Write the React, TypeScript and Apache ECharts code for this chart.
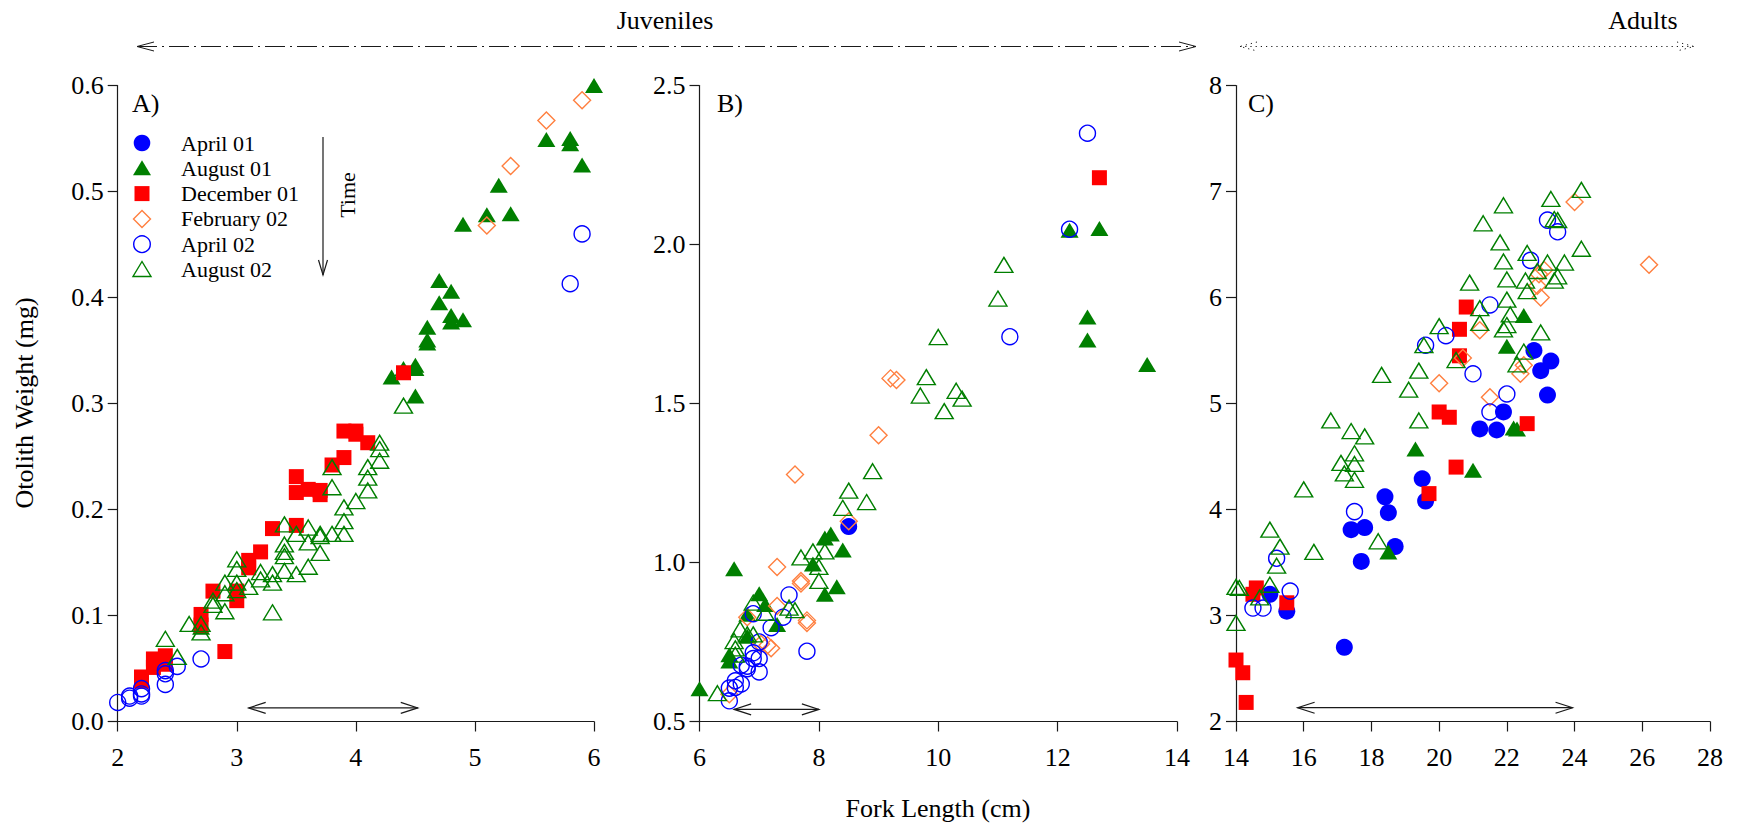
import React, { useEffect, useRef } from "react";
import * as echarts from "echarts";

// ---------- texts ----------
const seriesNames = ["April 01", "August 01", "December 01", "February 02", "April 02", "August 02"];
const panelLabels = ["A)", "B)", "C)"];
const headerLabels = ["Juveniles", "Adults"];
const xTitle = "Fork Length (cm)";
const yTitle = "Otolith Weight (mg)";
const timeLabel = "Time";

// ---------- axes: [min, max, interval] ----------
const xAxisA = [2, 6, 1];
const yAxisA = [0, 0.6, 0.1];
const xAxisB = [6, 14, 2];
const yAxisB = [0.5, 2.5, 0.5];
const xAxisC = [14, 28, 2];
const yAxisC = [2, 8, 1];
const yDecimals = [1, 1, 0];

// ---------- range arrows inside panels: [x1, x2, y] ----------
const rangeArrowA = [3.1, 4.52, 0.0128];
const rangeArrowB = [6.58, 8.0, 0.538];
const rangeArrowC = [15.82, 23.94, 2.13];

// ---------- Panel A data [fork length, otolith weight] ----------
const apr01A: number[][] = [];
const aug01A = [[6.0,0.6],[5.6,0.549],[5.8,0.55],[5.8,0.545],[5.9,0.525],[5.2,0.506],[5.1,0.478],[5.3,0.479],[4.9,0.469],[4.7,0.416],[4.8,0.406],[4.7,0.395],[4.8,0.383],[4.8,0.377],[4.9,0.379],[4.6,0.372],[4.6,0.36],[4.6,0.357],[4.5,0.336],[4.5,0.333],[4.3,0.325],[4.4,0.333],[4.5,0.307],[2.7,0.089]];
const dec01A = [[4.4,0.329],[3.9,0.274],[4.0,0.274],[4.0,0.271],[4.1,0.263],[3.8,0.242],[3.9,0.249],[3.5,0.231],[3.5,0.216],[3.6,0.219],[3.7,0.218],[3.7,0.214],[3.5,0.185],[3.3,0.182],[3.2,0.16],[3.1,0.152],[3.1,0.145],[3.0,0.123],[3.0,0.114],[2.8,0.123],[2.7,0.101],[2.7,0.091],[2.9,0.066],[2.4,0.062],[2.3,0.059],[2.3,0.051],[2.4,0.054],[2.2,0.038],[2.2,0.042]];
const feb02A = [[5.9,0.586],[5.6,0.567],[5.3,0.524],[5.1,0.468]];
const apr02A = [[5.9,0.46],[5.8,0.413],[2.0,0.018],[2.1,0.024],[2.1,0.022],[2.2,0.031],[2.2,0.026],[2.2,0.024],[2.4,0.048],[2.4,0.045],[2.4,0.035],[2.5,0.052],[2.7,0.059]];
const aug02A = [[4.4,0.298],[4.2,0.263],[4.2,0.257],[4.2,0.246],[4.1,0.24],[4.1,0.23],[4.1,0.218],[4.0,0.208],[3.9,0.202],[3.9,0.189],[3.9,0.177],[3.8,0.24],[3.8,0.221],[3.8,0.177],[3.7,0.177],[3.7,0.175],[3.7,0.159],[3.6,0.183],[3.6,0.169],[3.6,0.146],[3.5,0.177],[3.5,0.139],[3.4,0.186],[3.4,0.167],[3.4,0.16],[3.4,0.156],[3.4,0.142],[3.3,0.139],[3.3,0.131],[3.3,0.103],[3.2,0.141],[3.2,0.134],[3.1,0.127],[3.0,0.153],[3.0,0.144],[3.0,0.131],[3.0,0.124],[2.9,0.131],[2.9,0.121],[2.9,0.104],[2.8,0.114],[2.8,0.11],[2.7,0.092],[2.7,0.084],[2.6,0.092],[2.5,0.061],[2.4,0.078]];

// ---------- Panel B data ----------
const apr01B = [[8.5,1.113]];
const aug01B = [[12.2,2.045],[12.7,2.05],[12.5,1.772],[12.5,1.70],[13.5,1.623],[6.0,0.603],[6.58,0.98],[7.0,0.902],[7.1,0.868],[6.8,0.837],[7.3,0.805],[6.8,0.768],[6.5,0.69],[6.5,0.71],[7.9,0.995],[8.1,0.9],[8.3,0.924],[8.4,1.039],[8.1,1.077],[8.2,1.09]];
const dec01B = [[12.7,2.21]];
const feb02B = [[9.2,1.579],[9.3,1.574],[9.0,1.40],[7.6,1.277],[8.5,1.13],[7.3,0.986],[7.7,0.942],[7.7,0.934],[7.3,0.863],[7.8,0.818],[7.8,0.81],[6.8,0.828],[7.03,0.744],[7.14,0.74],[7.2,0.73],[6.5,0.586]];
const apr02B = [[12.5,2.35],[12.2,2.048],[11.2,1.71],[7.5,0.898],[6.9,0.839],[7.4,0.828],[7.2,0.795],[7.8,0.721],[7.0,0.75],[6.9,0.716],[6.9,0.698],[7.0,0.698],[6.7,0.677],[6.8,0.666],[6.8,0.674],[7.0,0.656],[6.6,0.628],[6.7,0.618],[6.5,0.605],[6.6,0.607],[6.5,0.565]];
const aug02B = [[11.1,1.936],[11.0,1.83],[10.0,1.709],[9.8,1.583],[9.7,1.525],[10.3,1.54],[10.4,1.515],[10.1,1.476],[8.9,1.287],[8.5,1.226],[8.8,1.19],[8.4,1.172],[7.7,1.016],[7.9,1.035],[8.1,1.035],[8.0,0.986],[8.0,0.942],[7.5,0.858],[7.6,0.85],[7.1,0.842],[6.9,0.874],[6.68,0.79],[6.58,0.753],[6.6,0.73],[6.8,0.774],[6.9,0.774],[6.3,0.589],[6.6,0.71]];

// ---------- Panel C data ----------
const apr01C = [[22.8,5.50],[23.3,5.40],[23.0,5.31],[23.2,5.08],[21.9,4.92],[21.2,4.76],[21.7,4.75],[19.5,4.29],[19.6,4.08],[18.4,4.12],[18.5,3.97],[17.4,3.81],[17.8,3.83],[18.7,3.65],[17.7,3.51],[17.2,2.70],[15.0,3.2],[15.5,3.04]];
const aug01C = [[22.5,5.83],[22.0,5.54],[22.2,4.77],[22.3,4.76],[19.3,4.57],[21.0,4.37],[18.5,3.60]];
const dec01C = [[20.8,5.91],[20.6,5.70],[20.6,5.45],[20.0,4.92],[20.3,4.87],[22.6,4.81],[20.5,4.40],[19.7,4.15],[14.0,2.58],[14.2,2.46],[14.3,2.18],[14.6,3.26],[14.5,3.2],[15.5,3.12]];
const feb02C = [[24.0,6.90],[26.2,6.31],[23.1,6.26],[22.95,6.22],[22.9,6.11],[23.0,6.0],[21.2,5.69],[20.7,5.43],[22.5,5.36],[22.4,5.28],[20.0,5.19],[21.5,5.06]];
const apr02C = [[23.2,6.73],[23.5,6.62],[22.7,6.35],[21.5,5.93],[20.2,5.64],[19.6,5.55],[21.0,5.28],[22.0,5.09],[21.5,4.92],[17.5,3.98],[15.2,3.54],[15.6,3.23],[14.5,3.07],[14.8,3.07]];
const aug02C = [[24.2,7.015],[23.3,6.93],[21.9,6.87],[23.4,6.74],[23.5,6.73],[21.3,6.70],[21.8,6.52],[24.2,6.46],[22.6,6.42],[21.9,6.34],[23.2,6.33],[23.7,6.33],[22.9,6.25],[22.0,6.17],[22.55,6.16],[23.5,6.2],[23.4,6.16],[20.9,6.14],[22.6,6.06],[22.0,5.98],[21.2,5.90],[22.1,5.84],[22.0,5.74],[21.9,5.70],[20.0,5.73],[21.2,5.76],[23.0,5.67],[19.55,5.55],[20.5,5.41],[22.5,5.49],[22.3,5.37],[19.4,5.31],[18.3,5.27],[19.1,5.13],[19.4,4.84],[16.8,4.84],[17.4,4.74],[17.8,4.69],[17.5,4.53],[17.1,4.44],[17.5,4.43],[17.2,4.34],[17.5,4.28],[16.0,4.19],[15.0,3.81],[15.3,3.65],[16.3,3.60],[18.2,3.70],[15.2,3.47],[15.0,3.29],[14.0,3.27],[14.1,3.26],[14.7,3.17],[14.0,2.93]];

// ---------- styling / layout ----------
const FONT = "Liberation Serif";
const INK = "#1a1a1a";
const MARKS = [
  { symbol: "circle", size: 17, color: "#0000FF", filled: true },
  { symbol: "triangle", size: [18, 15], color: "#007F00", filled: true },
  { symbol: "rect", size: 15, color: "#FF0000", filled: true },
  { symbol: "diamond", size: [17, 17], color: "#FF7F3F", filled: false },
  { symbol: "circle", size: 16, color: "#0000FF", filled: false },
  { symbol: "triangle", size: [18, 15], color: "#007F00", filled: false },
];
const GRID_TOP = 85.5;
const GRID_H = 636;
const GRIDS = [
  { left: 117.7, width: 476.3 },
  { left: 699.5, width: 477.5 },
  { left: 1236, width: 474 },
];

function legendMarker(i: number, cx: number, cy: number) {
  const m = MARKS[i];
  const style: any = m.filled
    ? { fill: m.color, stroke: null }
    : { fill: "none", stroke: m.color, lineWidth: 1.4 };
  if (m.symbol === "circle") return { type: "circle", shape: { cx, cy, r: 8.3 }, style };
  if (m.symbol === "rect") return { type: "rect", shape: { x: cx - 7.5, y: cy - 7.5, width: 15, height: 15 }, style };
  if (m.symbol === "diamond")
    return { type: "polygon", shape: { points: [[cx, cy - 8.5], [cx + 8.5, cy], [cx, cy + 8.5], [cx - 8.5, cy]] }, style };
  return { type: "polygon", shape: { points: [[cx, cy - 8], [cx + 9, cy + 7], [cx - 9, cy + 7]] }, style };
}

function headArrow(x: number, y: number, dir: number, dash: any) {
  return {
    type: "polyline",
    shape: { points: [[x - dir * 17, y - 4.5], [x, y], [x - dir * 17, y + 4.5]] },
    style: { stroke: INK, fill: "none", lineWidth: 1, lineDash: dash },
  };
}

export default function App() {
  const ref = useRef<HTMLDivElement>(null);

  useEffect(() => {
    document.body.style.margin = "0";
    if (!ref.current) return;
    const chart = echarts.init(ref.current, null, { renderer: "svg" });

    const panels = [
      { x: xAxisA, y: yAxisA, data: [apr01A, aug01A, dec01A, feb02A, apr02A, aug02A], arrow: rangeArrowA },
      { x: xAxisB, y: yAxisB, data: [apr01B, aug01B, dec01B, feb02B, apr02B, aug02B], arrow: rangeArrowB },
      { x: xAxisC, y: yAxisC, data: [apr01C, aug01C, dec01C, feb02C, apr02C, aug02C], arrow: rangeArrowC },
    ];

    const axisCommon = {
      axisLine: { show: true, onZero: false, lineStyle: { color: INK, width: 1.2 } },
      axisTick: { show: true, inside: false, length: 10, lineStyle: { color: INK, width: 1.2 } },
      splitLine: { show: false },
    };

    const grid = GRIDS.map((g) => ({
      left: g.left, width: g.width, top: GRID_TOP, height: GRID_H,
      containLabel: false, outerBoundsMode: "none",
    }));

    const xAxis = panels.map((p, i) => ({
      type: "value", gridIndex: i, min: p.x[0], max: p.x[1], interval: p.x[2],
      ...axisCommon,
      axisLabel: { fontFamily: FONT, fontSize: 26, color: "#000", margin: 23, showMinLabel: true, showMaxLabel: true },
    }));
    const yAxis = panels.map((p, i) => ({
      type: "value", gridIndex: i, min: p.y[0], max: p.y[1], interval: p.y[2],
      ...axisCommon,
      axisLabel: {
        fontFamily: FONT, fontSize: 26, color: "#000", margin: 14, showMinLabel: true, showMaxLabel: true,
        formatter: (v: number) => v.toFixed(yDecimals[i]),
      },
    }));

    const series: any[] = [];
    panels.forEach((p, pi) => {
      p.data.forEach((d, si) => {
        const m = MARKS[si];
        series.push({
          type: "scatter",
          name: seriesNames[si],
          xAxisIndex: pi,
          yAxisIndex: pi,
          data: d,
          symbol: m.symbol,
          symbolSize: m.size,
          silent: true,
          itemStyle: m.filled
            ? { color: m.color, opacity: 1 }
            : { color: "rgba(0,0,0,0)", borderColor: m.color, borderWidth: 1.4, opacity: 1 },
        });
      });
      series.push({
        type: "custom",
        xAxisIndex: pi,
        yAxisIndex: pi,
        silent: true,
        encode: { x: [0, 1], y: 2 },
        data: [p.arrow],
        renderItem: (params: any, api: any) => {
          const a = api.coord([api.value(0), api.value(2)]);
          const b = api.coord([api.value(1), api.value(2)]);
          const L = 17, H = 5.5;
          const st = { stroke: INK, fill: "none", lineWidth: 1.2 };
          return {
            type: "group",
            children: [
              { type: "line", shape: { x1: a[0], y1: a[1], x2: b[0], y2: b[1] }, style: st },
              { type: "polyline", shape: { points: [[a[0] + L, a[1] - H], [a[0], a[1]], [a[0] + L, a[1] + H]] }, style: st },
              { type: "polyline", shape: { points: [[b[0] - L, b[1] - H], [b[0], b[1]], [b[0] - L, b[1] + H]] }, style: st },
            ],
          };
        },
      });
    });

    const dashDot = [20, 5, 2, 5];
    const dotted = [1.2, 4];
    const headY = 46.5;
    const graphic: any[] = [
      { type: "text", x: 665, y: 20, style: { text: headerLabels[0], fontFamily: FONT, fontSize: 26, fill: "#000", textAlign: "center", textVerticalAlign: "middle" } },
      { type: "text", x: 1643, y: 20, style: { text: headerLabels[1], fontFamily: FONT, fontSize: 26, fill: "#000", textAlign: "center", textVerticalAlign: "middle" } },
      { type: "line", shape: { x1: 137, y1: headY, x2: 1196, y2: headY }, style: { stroke: INK, lineWidth: 1, lineDash: dashDot } },
      headArrow(137, headY, -1, null),
      headArrow(1196, headY, 1, null),
      { type: "line", shape: { x1: 1240, y1: headY, x2: 1694, y2: headY }, style: { stroke: INK, lineWidth: 1, lineDash: dotted } },
      headArrow(1240, headY, -1, dotted),
      headArrow(1694, headY, 1, dotted),
      { type: "text", x: 938, y: 808, style: { text: xTitle, fontFamily: FONT, fontSize: 26, fill: "#000", textAlign: "center", textVerticalAlign: "middle" } },
      { type: "text", x: 24, y: 403, rotation: Math.PI / 2, style: { text: yTitle, fontFamily: FONT, fontSize: 26, fill: "#000", textAlign: "center", textVerticalAlign: "middle" } },
      { type: "line", shape: { x1: 323, y1: 137, x2: 323, y2: 275 }, style: { stroke: INK, lineWidth: 1.2 } },
      { type: "polyline", shape: { points: [[318.5, 260], [323, 275], [327.5, 260]] }, style: { stroke: INK, fill: "none", lineWidth: 1.2 } },
      { type: "text", x: 347, y: 195, rotation: Math.PI / 2, style: { text: timeLabel, fontFamily: FONT, fontSize: 22, fill: "#000", textAlign: "center", textVerticalAlign: "middle" } },
    ];
    const labelX = [132, 717, 1248];
    panelLabels.forEach((t, i) => {
      graphic.push({ type: "text", x: labelX[i], y: 103, style: { text: t, fontFamily: FONT, fontSize: 26, fill: "#000", textAlign: "left", textVerticalAlign: "middle" } });
    });
    seriesNames.forEach((n, i) => {
      const cy = 143 + i * 25.3;
      graphic.push(legendMarker(i, 142, cy));
      graphic.push({ type: "text", x: 181, y: cy, style: { text: n, fontFamily: FONT, fontSize: 22, fill: "#000", textAlign: "left", textVerticalAlign: "middle" } });
    });

    chart.setOption({
      animation: false,
      backgroundColor: "#ffffff",
      textStyle: { fontFamily: FONT },
      grid,
      xAxis,
      yAxis,
      series,
      graphic,
    });

    return () => chart.dispose();
  }, []);

  return <div ref={ref} style={{ width: 1741, height: 825 }} />;
}
